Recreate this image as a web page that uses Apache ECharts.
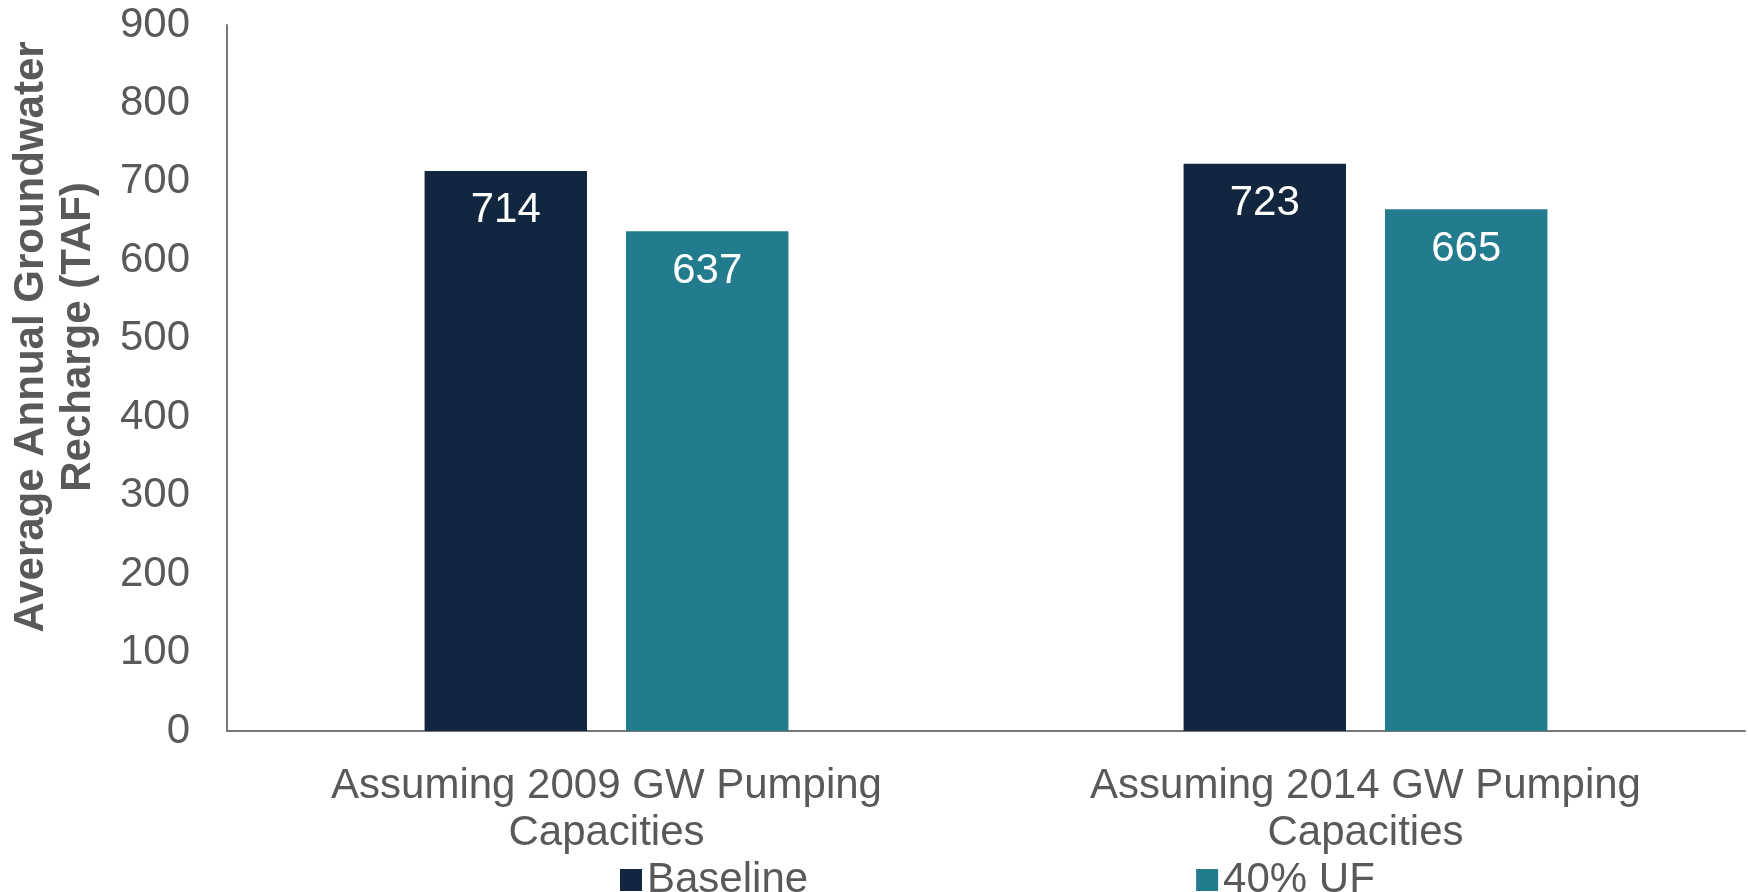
<!DOCTYPE html>
<html>
<head>
<meta charset="utf-8">
<script src="https://cdn.jsdelivr.net/npm/echarts@6/dist/echarts.min.js"></script>
<style>
  html, body { margin: 0; padding: 0; background: #fff; }
  #chart { width: 1748px; height: 892px; }
</style>
</head>
<body>
<div id="chart"></div>
<script>
// values
const categories = ['Assuming 2009 GW Pumping\nCapacities', 'Assuming 2014 GW Pumping\nCapacities']
const baseline = [714, 723]
const uf40 = [637, 665]
const yTicks = [0, 900, 100] // min, max, step

const font = '"Liberation Sans", Arial, sans-serif'
const grey = '#595959'

const myChart = echarts.init(document.getElementById('chart'))

const barLabel = {
  show: true,
  position: 'insideTop',
  distance: 19,
  color: '#fff',
  fontSize: 42,
  fontFamily: font
}

myChart.setOption({
  animation: false,
  textStyle: { fontFamily: font },
  grid: { left: 227, right: 3, top: 25, bottom: 161 },
  legend: {
    left: 615,
    top: 852,
    itemWidth: 22,
    itemHeight: 22,
    itemGap: 388,
    icon: 'rect',
    textStyle: { fontSize: 42, color: grey, fontFamily: font, lineHeight: 46 },
    data: ['Baseline', '40% UF']
  },
  graphic: [{
    type: 'text',
    x: 55,
    y: 337,
    rotation: Math.PI / 2,
    style: {
      text: 'Average Annual Groundwater\nRecharge (TAF)',
      align: 'center',
      verticalAlign: 'middle',
      fontSize: 42,
      fontWeight: 'bold',
      lineHeight: 47,
      fontFamily: font,
      fill: grey
    }
  }],
  xAxis: {
    type: 'category',
    data: categories,
    axisLine: { show: true, lineStyle: { color: '#777', width: 2 } },
    axisTick: { show: false },
    axisLabel: { fontSize: 42, color: grey, lineHeight: 47, margin: 32, fontFamily: font }
  },
  yAxis: {
    type: 'value',
    min: yTicks[0],
    max: yTicks[1],
    interval: yTicks[2],
    axisLine: { show: true, lineStyle: { color: '#777', width: 2 } },
    axisTick: { show: false },
    splitLine: { show: false },
    axisLabel: { fontSize: 42, color: grey, margin: 37, fontFamily: font }
  },
  series: [
    {
      name: 'Baseline',
      type: 'bar',
      data: baseline,
      barWidth: '21.4%',
      barGap: '24%',
      itemStyle: { color: '#13263F' },
      label: barLabel
    },
    {
      name: '40% UF',
      type: 'bar',
      data: uf40,
      barWidth: '21.4%',
      itemStyle: { color: '#237B8E' },
      label: barLabel
    }
  ]
})
</script>
</body>
</html>
